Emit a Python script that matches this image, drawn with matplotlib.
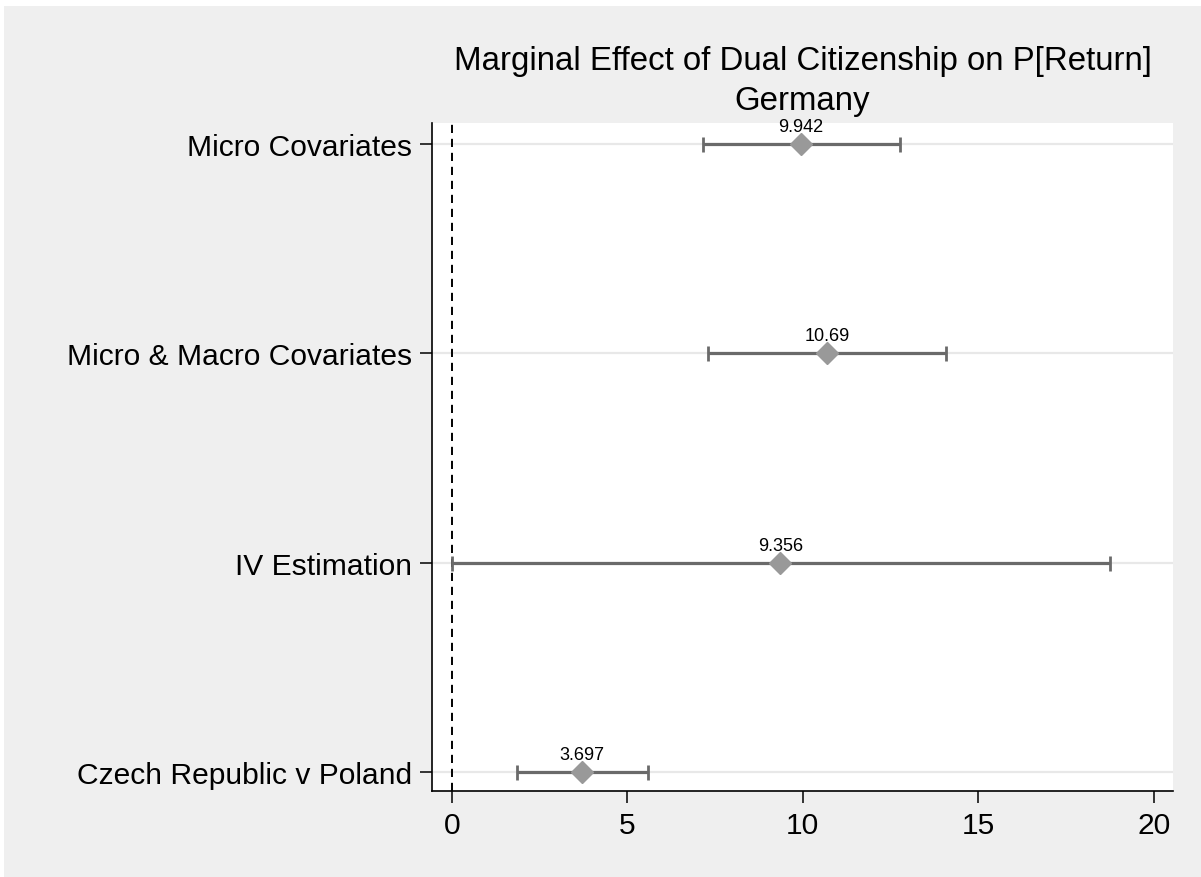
import matplotlib
matplotlib.use("Agg")
import matplotlib.pyplot as plt
from matplotlib.patches import Rectangle

plt.rcParams['font.family'] = ['Liberation Sans', 'DejaVu Sans']

categories = ["Micro Covariates", "Micro & Macro Covariates", "IV Estimation", "Czech Republic v Poland"]
estimates = [9.942, 10.69, 9.356, 3.697]
ci_low = [7.15, 7.30, 0.0, 1.85]
ci_high = [12.77, 14.08, 18.76, 5.58]
labels = ["9.942", "10.69", "9.356", "3.697"]
xticks = [0, 5, 10, 15, 20]

W, H = 1201, 878
fig = plt.figure(figsize=(W / 100, H / 100), dpi=100, facecolor='white')
fig.patches.append(Rectangle((4 / W, 0), 1 - 4 / W, 1 - 7 / H, transform=fig.transFigure,
                             facecolor='#efefef', edgecolor='none', zorder=-10))

ax = fig.add_axes([432 / W, 1 - 792 / H, (1173 - 432) / W, (792 - 124) / H])
ax.set_facecolor('white')

ypos = [3, 2, 1, 0]
for y in ypos:
    ax.axhline(y, color='#e8e8e8', lw=1.6, zorder=0)

ax.axvline(0, color='black', lw=1.4, ls=(0, (4.2, 3)), zorder=1)

for y, est, lo, hi, lab in zip(ypos, estimates, ci_low, ci_high, labels):
    ax.errorbar([est], [y], xerr=[[est - lo], [hi - est]], fmt='none', ecolor='#6a6a6a',
                elinewidth=2.3, capsize=5.4, capthick=2.0, zorder=2)
    ax.plot([est], [y], marker='D', markersize=11, color='#999999', markeredgecolor='#999999', zorder=3)
    ax.annotate(lab, (est, y), xytext=(0, 9.4), textcoords='offset points', ha='center', va='baseline',
                fontsize=13, color='black')

ax.set_xlim(-0.57, 20.55)
ax.set_ylim(-0.09, 3.1)
ax.set_xticks(xticks)
ax.set_xticklabels([str(t) for t in xticks])
ax.set_yticks(ypos)
ax.set_yticklabels(categories)
ax.tick_params(axis='both', direction='out', length=8.6, width=1.1, color='black', labelsize=21.6, pad=6)
for s in ['top', 'right']:
    ax.spines[s].set_visible(False)
for s in ['left', 'bottom']:
    ax.spines[s].set_linewidth(1.2)
    ax.spines[s].set_color('black')

cx = (432 + 1173) / 2 / W
fig.text(cx, 1 - 70 / H, "Marginal Effect of Dual Citizenship on P[Return]", ha='center', va='baseline', fontsize=23.8)
fig.text(cx, 1 - 110 / H, "Germany", ha='center', va='baseline', fontsize=23.8)

fig.savefig("out.png", dpi=100, facecolor=fig.get_facecolor())
